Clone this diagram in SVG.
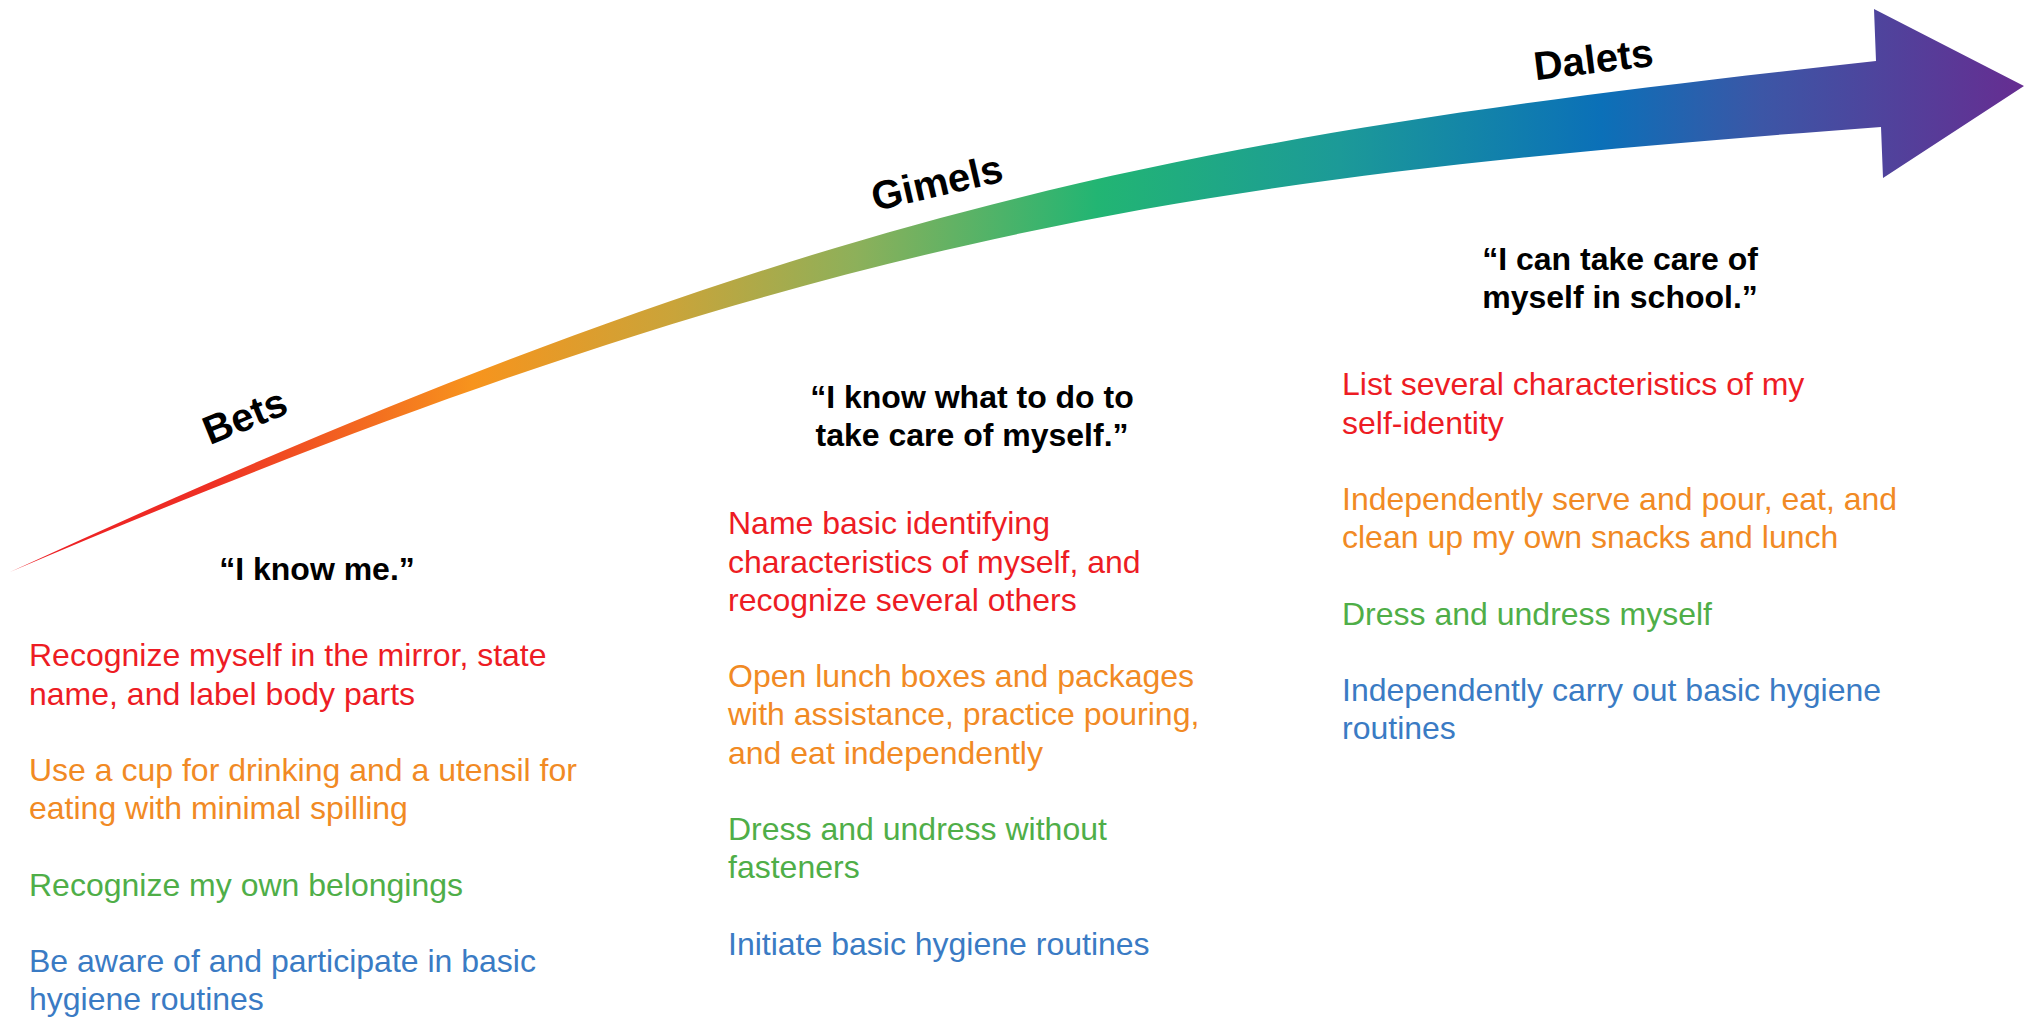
<svg xmlns="http://www.w3.org/2000/svg" width="2026" height="1018" viewBox="0 0 2026 1018">
  <defs>
    <linearGradient id="rainbow" gradientUnits="userSpaceOnUse" x1="10" y1="0" x2="2024" y2="0">
      <stop offset="0" stop-color="#ED1C24"/>
      <stop offset="0.1" stop-color="#EE3024"/>
      <stop offset="0.23" stop-color="#F7941D"/>
      <stop offset="0.33" stop-color="#C9A43A"/>
      <stop offset="0.42" stop-color="#8DB05A"/>
      <stop offset="0.54" stop-color="#22B573"/>
      <stop offset="0.66" stop-color="#1C9A98"/>
      <stop offset="0.79" stop-color="#0B70B8"/>
      <stop offset="0.87" stop-color="#3C56A6"/>
      <stop offset="1" stop-color="#662D91"/>
    </linearGradient>
  </defs>
  <style>
    text { font-family: "Liberation Sans", Arial, Helvetica, sans-serif; }
    .stage { font-size: 40px; font-weight: bold; fill: #000; text-anchor: middle; }
    .head { font-size: 32px; font-weight: bold; fill: #000; text-anchor: middle; }
    .item { font-size: 32px; }
    .red { fill: #ED1C24; }
    .orange { fill: #F18A24; }
    .green { fill: #4FAE48; }
    .blue { fill: #3A7BC4; }
  </style>
  <rect x="0" y="0" width="2026" height="1018" fill="#ffffff"/>

  <g id="arrow">
    <path d="M10,572 C810,204 1176,138 1876,61 L1874,9 L2024,86 L1883,178 L1881,127 C1181,179 810,232 10,572 Z" fill="url(#rainbow)"/>
  </g>

  <g id="stage-labels">
    <text class="stage" x="250" y="429" transform="rotate(-22 250 429)">Bets</text>
    <text class="stage" x="940" y="196" transform="rotate(-13 940 196)">Gimels</text>
    <text class="stage" x="1595" y="73" transform="rotate(-7 1595 73)">Dalets</text>
  </g>

  <g id="bets">
    <text class="head" x="317" y="580">“I know me.”</text>
    <text class="item red"><tspan x="29" y="666.3">Recognize myself in the mirror, state</tspan><tspan x="29" y="704.5">name, and label body parts</tspan></text>
    <text class="item orange"><tspan x="29" y="780.9">Use a cup for drinking and a utensil for</tspan><tspan x="29" y="819.1">eating with minimal spilling</tspan></text>
    <text class="item green" x="29" y="895.5">Recognize my own belongings</text>
    <text class="item blue"><tspan x="29" y="971.9">Be aware of and participate in basic</tspan><tspan x="29" y="1010.1">hygiene routines</tspan></text>
  </g>

  <g id="gimels">
    <text class="head"><tspan x="972" y="408">“I know what to do to</tspan><tspan x="972" y="446">take care of myself.”</tspan></text>
    <text class="item red"><tspan x="728" y="534.3">Name basic identifying</tspan><tspan x="728" y="572.5">characteristics of myself, and</tspan><tspan x="728" y="610.7">recognize several others</tspan></text>
    <text class="item orange"><tspan x="728" y="687.1">Open lunch boxes and packages</tspan><tspan x="728" y="725.3">with assistance, practice pouring,</tspan><tspan x="728" y="763.5">and eat independently</tspan></text>
    <text class="item green"><tspan x="728" y="839.9">Dress and undress without</tspan><tspan x="728" y="878.1">fasteners</tspan></text>
    <text class="item blue" x="728" y="954.5">Initiate basic hygiene routines</text>
  </g>

  <g id="dalets">
    <text class="head"><tspan x="1620" y="270">“I can take care of</tspan><tspan x="1620" y="307.5">myself in school.”</tspan></text>
    <text class="item red"><tspan x="1342" y="395.3">List several characteristics of my</tspan><tspan x="1342" y="433.5">self-identity</tspan></text>
    <text class="item orange"><tspan x="1342" y="509.9">Independently serve and pour, eat, and</tspan><tspan x="1342" y="548.1">clean up my own snacks and lunch</tspan></text>
    <text class="item green" x="1342" y="624.5">Dress and undress myself</text>
    <text class="item blue"><tspan x="1342" y="700.9">Independently carry out basic hygiene</tspan><tspan x="1342" y="739.1">routines</tspan></text>
  </g>
</svg>
